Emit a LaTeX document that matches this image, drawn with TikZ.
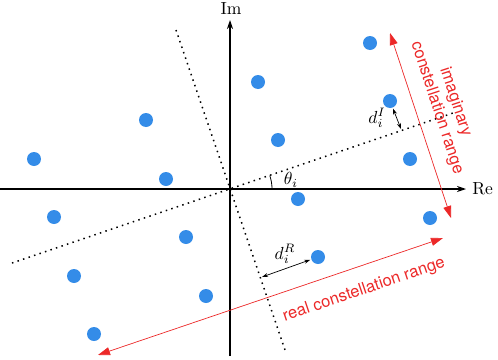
\documentclass[tikz,border=0pt]{standalone}
\usepackage{fontspec}
\newfontfamily\lblfont{TeX Gyre Heros}
\usetikzlibrary{arrows.meta,calc}
\definecolor{dotblue}{RGB}{52,140,232}
\definecolor{rangered}{RGB}{236,40,40}
\begin{document}
\begin{tikzpicture}[x=1pt,y=-1pt,
  pt/.style={circle,fill=dotblue,inner sep=0pt,minimum size=14pt},
  axis/.style={line width=1.1pt,-{Stealth[length=9pt,width=6pt]}},
  dline/.style={dash pattern=on 1.5pt off 4.3pt,line width=1.5pt},
  rng/.style={rangered,line width=0.7pt,{Triangle[length=12pt,width=8pt]}-{Triangle[length=12pt,width=8pt]}},
  meas/.style={line width=0.7pt,{Stealth[length=6pt,width=4pt]}-{Stealth[length=6pt,width=4pt]}},
  rlbl/.style={rangered,font=\lblfont\fontsize{16.5pt}{19.5pt}\selectfont,align=center,inner sep=0pt},
  mlbl/.style={font=\normalsize,scale=1.75,inner sep=0pt}
]
\useasboundingbox (0,0) rectangle (498,359);
% axes
\coordinate (O) at (230,189);
\coordinate (xs) at (0,189);
\coordinate (xe) at (466,189);
\coordinate (ys) at (230,356);
\coordinate (ye) at (230,20);
\draw[axis] (xs) -- (xe);
\draw[axis] (ys) -- (ye);
\node[mlbl,anchor=west] (re) at (472,189) {Re};
\node[mlbl] (im) at (231,9) {Im};
% dotted rotated axes
\coordinate (a1) at (12,263);
\coordinate (a2) at (453,113);
\coordinate (b1) at (176,30);
\coordinate (b2) at (285,350);
\draw[dline] (a1) -- (a2);
\draw[dline] (b1) -- (b2);
% angle
\draw[line width=0.8pt] (272,189) arc[start angle=0,end angle=-18.7,radius=42];
\node[mlbl] (th) at (291,180) {$\theta_i$};
% constellation points
\node[pt] (p1) at (370,43) {};
\node[pt] (p2) at (258,82) {};
\node[pt] (p3) at (390,101) {};
\node[pt] (p4) at (146,120) {};
\node[pt] (p5) at (278,140) {};
\node[pt] (p6) at (34,159) {};
\node[pt] (p7) at (410,159) {};
\node[pt] (p8) at (166,179) {};
\node[pt] (p9) at (298,199) {};
\node[pt] (p10) at (54,217) {};
\node[pt] (p11) at (430,218) {};
\node[pt] (p12) at (186,237) {};
\node[pt] (p13) at (74,276) {};
\node[pt] (p14) at (318,257) {};
\node[pt] (p15) at (206,296) {};
\node[pt] (p16) at (94,334) {};
% distances
\coordinate (fI) at (401,129);
\draw[meas,shorten <=1pt] (p3) -- (fI);
\node[mlbl] (dI) at (377,118) {$d_i^I$};
\coordinate (fR) at (262,277);
\draw[meas,shorten <=1pt] (p14) -- (fR);
\node[mlbl] (dR) at (285,254) {$d_i^R$};
% ranges
\coordinate (i1) at (390,33);
\coordinate (i2) at (451,218);
\draw[rng] (i1) -- (i2);
\node[rlbl,rotate=-71.8] (ilbl) at (446,105) {imaginary\\constellation range};
\coordinate (r1) at (98,355);
\coordinate (r2) at (443,238);
\draw[rng] (r1) -- (r2);
\node[rlbl,rotate=18.7] (rlbl) at (364,290) {real constellation range};
\end{tikzpicture}
\end{document}
